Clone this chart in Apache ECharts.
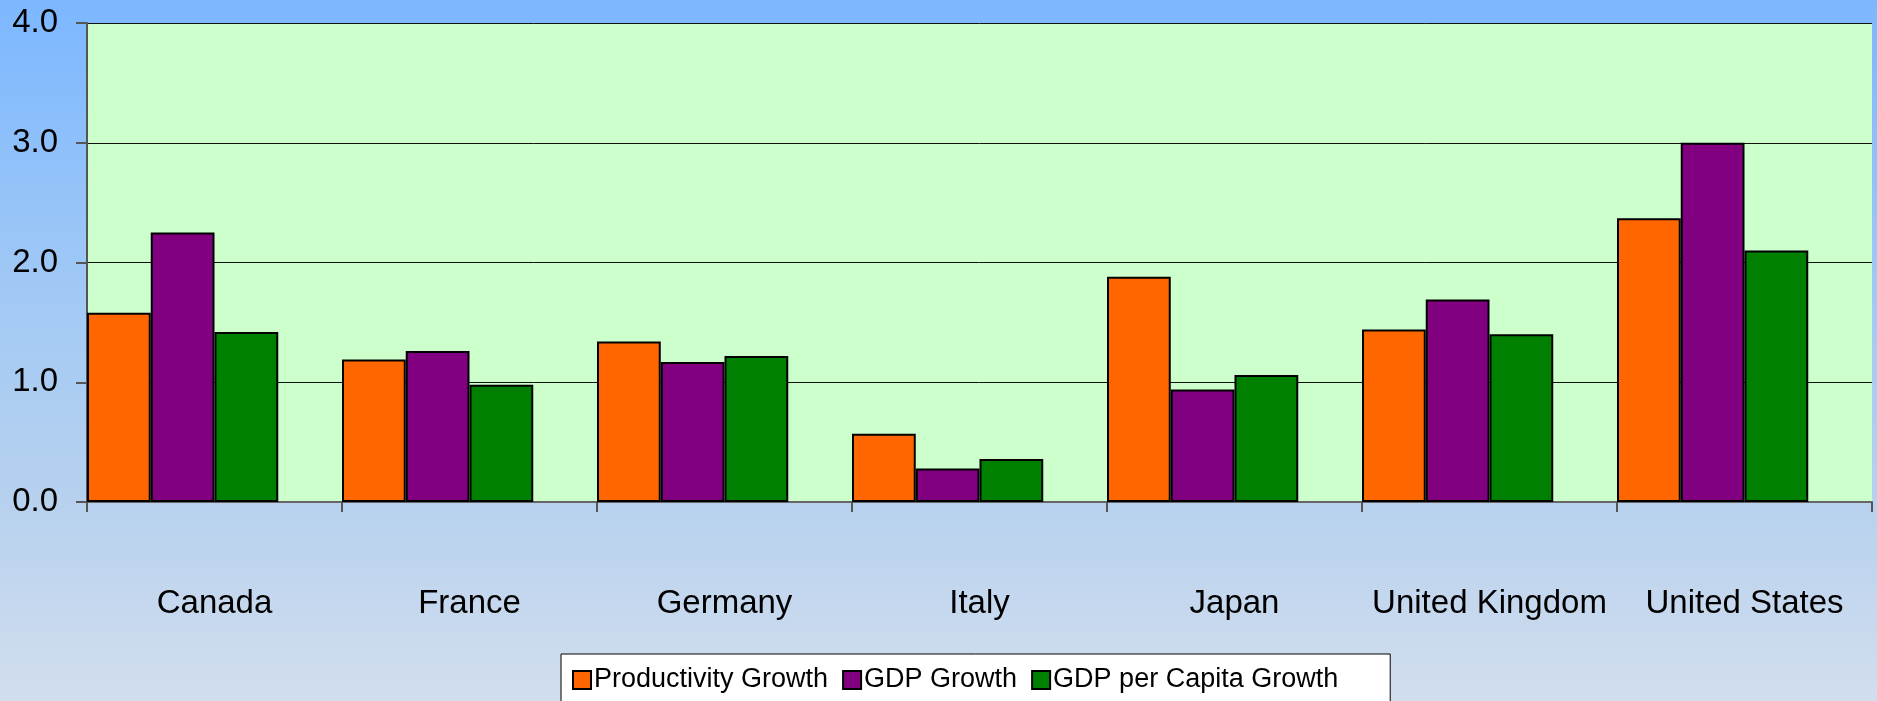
<!DOCTYPE html>
<html>
<head>
<meta charset="utf-8">
<script src="https://cdn.jsdelivr.net/npm/echarts@6/dist/echarts.min.js"></script>
<style>
html,body{margin:0;padding:0;}
#chart{width:1877px;height:701px;}
</style>
</head>
<body>
<div id="chart"></div>
<script>
const categories = ['Canada', 'France', 'Germany', 'Italy', 'Japan', 'United Kingdom', 'United States'];
const productivityGrowth = [1.58, 1.19, 1.34, 0.57, 1.88, 1.44, 2.37];
const gdpGrowth = [2.25, 1.26, 1.17, 0.28, 0.94, 1.69, 3.00];
const gdpPerCapitaGrowth = [1.42, 0.98, 1.22, 0.36, 1.06, 1.40, 2.10];
const yTicks = [0, 1, 2, 3, 4];

const seriesNames = ['Productivity Growth', 'GDP Growth', 'GDP per Capita Growth'];
const seriesColors = ['#FF6600', '#800080', '#008000'];
const seriesData = [productivityGrowth, gdpGrowth, gdpPerCapitaGrowth];

const chart = echarts.init(document.getElementById('chart'));

const series = seriesNames.map((name, i) => ({
  name: name,
  type: 'bar',
  data: seriesData[i],
  barGap: '0%',
  barCategoryGap: '0%',
  itemStyle: { color: seriesColors[i], borderColor: '#000', borderWidth: 2 }
}));
// empty spacer slot so each group sits in the left part of its category band
series.push({
  name: 'spacer',
  type: 'bar',
  data: [],
  barGap: '0%',
  barCategoryGap: '0%',
  silent: true,
  itemStyle: { color: 'transparent' }
});

chart.setOption({
  animation: false,
  backgroundColor: {
    type: 'linear', x: 0, y: 0, x2: 0, y2: 1,
    colorStops: [
      { offset: 0, color: '#7CB7FF' },
      { offset: 0.45, color: '#A4CAF4' },
      { offset: 0.72, color: '#B7D1EE' },
      { offset: 1, color: '#D2DEEE' }
    ]
  },
  textStyle: { fontFamily: 'Arial, "Liberation Sans", sans-serif' },
  grid: {
    left: 87, top: 23, right: 5, bottom: 199,
    show: true, backgroundColor: '#CCFFCC', borderWidth: 0
  },
  legend: {
    data: seriesNames,
    left: 561, top: 654,
    padding: [11, 52, 40, 11],
    itemGap: 14,
    itemWidth: 18, itemHeight: 18,
    icon: 'rect',
    backgroundColor: '#FFFFFF',
    borderColor: '#000', borderWidth: 1,
    textStyle: { fontSize: 27, color: '#000', lineHeight: 30, padding: [0, 0, 0, -2] }
  },
  xAxis: {
    type: 'category',
    data: categories,
    boundaryGap: true,
    axisLine: { lineStyle: { color: '#666', width: 2 } },
    axisTick: { show: true, interval: 0, length: 10, lineStyle: { color: '#555', width: 2 } },
    axisLabel: { interval: 0, fontSize: 33, color: '#000', margin: 102, verticalAlign: 'middle', lineHeight: 36 }
  },
  yAxis: {
    type: 'value',
    min: yTicks[0], max: yTicks[yTicks.length - 1], interval: 1,
    axisLine: { show: true, lineStyle: { color: '#555', width: 2 } },
    axisTick: { show: true, length: 11, lineStyle: { color: '#555', width: 2 } },
    axisLabel: { fontSize: 33, color: '#000', margin: 29, formatter: v => v.toFixed(1) },
    splitLine: { show: true, lineStyle: { color: '#111', width: 1 } }
  },
  series: series
});
</script>
</body>
</html>
